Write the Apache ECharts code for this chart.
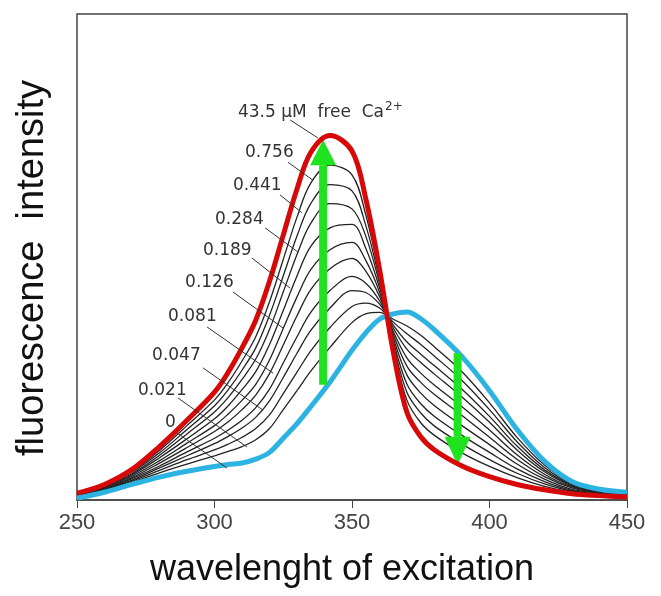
<!DOCTYPE html>
<html>
<head>
    <meta charset="utf-8">
    <title>fluorescence intensity</title>
    <script src="https://cdn.jsdelivr.net/npm/echarts@6/dist/echarts.min.js"></script>
</head>
<body style="margin: 0; padding: 0; background: #fff;">
<div id="main" style="width: 661px; height: 596px;"></div>
<script type="text/javascript">
    // wavelength of excitation (nm), same sampling for every trace
    var wavelengths = [250,260,270,280,290,300,305,310,315,320,325,330,335,342,350,355,360,365,370,375,380,390,400,410,420,430,440,450];
    var xTicks = [250, 300, 350, 400, 450];

    // 0 free Ca (blue) and 43.5 uM free Ca (red)
    var zeroCa = [0.4,1.6,3.2,4.7,5.9,6.9,7.3,7.6,8.4,9.8,12.7,15.7,19.2,24.3,30.8,34.4,37.2,38.3,38.7,37.3,35,29.5,22.5,14.5,8,3.8,2.2,1.6];
    var highCa = [1.4,3.2,6.3,11,16.4,22.2,26.3,31.3,37,45,54.5,64,71.5,75,71.8,62,47.5,30.5,18,13,10.3,7,4.8,3.2,2.1,1.3,0.9,0.6];

    // black traces in between, from the highest peak down
    var trace1 = [1.3,3.0,5.9,10.2,15.3,20.6,24.2,28.6,33.6,40.8,49.5,58.2,65.2,68.9,66.9,58.7,46.3,31.4,20.5,15.9,13.3,9.7,6.9,4.6,2.8,1.6,1.1,0.7];
    var trace2 = [1.2,2.9,5.7,9.7,14.5,19.4,22.7,26.7,31.3,38.0,46.1,54.3,61.0,64.9,63.6,56.5,45.4,32.1,22.1,17.9,15.2,11.5,8.3,5.5,3.3,1.8,1.2,0.8];
    var trace3 = [1.1,2.8,5.4,9.2,13.6,18.1,21.1,24.8,29.0,35.1,42.8,50.5,56.9,61.0,59.9,54.3,44.6,32.7,23.8,19.8,17.2,13.3,9.8,6.4,3.8,2.0,1.3,0.9];
    var trace4 = [1.0,2.6,5.2,8.7,12.6,16.7,19.4,22.7,26.4,32.0,39.0,46.1,52.2,56.0,56.7,51.8,43.7,33.4,25.7,22.0,19.4,15.3,11.4,7.4,4.3,2.2,1.4,1.0];
    var trace5 = [0.9,2.5,4.9,8.1,11.7,15.3,17.7,20.5,23.8,28.8,35.3,41.8,47.4,51.5,53.0,49.3,42.8,34.1,27.5,24.2,21.7,17.4,12.9,8.4,4.8,2.5,1.5,1.1];
    var trace6 = [0.9,2.3,4.6,7.6,10.8,14.1,16.1,18.6,21.6,26.0,31.9,37.9,43.3,47.6,49.7,47.1,41.9,34.7,29.2,26.1,23.6,19.2,14.4,9.3,5.3,2.7,1.6,1.1];
    var trace7 = [0.8,2.2,4.4,7.0,9.9,12.7,14.4,16.4,19.0,22.8,28.2,33.6,38.6,43.1,46.0,44.6,41.0,35.4,31.0,28.3,25.9,21.2,16.0,10.3,5.8,2.9,1.7,1.2];
    var trace8 = [0.7,2.1,4.1,6.6,9.1,11.6,13.1,14.8,17.0,20.4,25.2,30.2,34.9,39.5,43.1,42.7,40.3,36.0,32.5,30.0,27.6,22.8,17.2,11.1,6.2,3.1,1.8,1.3];
    var trace9 = [0.6,2.0,3.9,6.1,8.3,10.3,11.5,12.9,14.7,17.5,21.9,26.3,30.7,35.5,39.8,40.5,39.5,36.6,34.2,32.0,29.6,24.6,18.6,12.0,6.7,3.3,1.9,1.4];
    var trace10 = [0.5,1.8,3.6,5.6,7.4,9.1,10.0,11.0,12.4,14.7,18.6,22.5,26.5,31.4,36.5,38.3,38.6,37.2,35.8,33.9,31.5,26.4,20.0,12.9,7.2,3.5,2.0,1.5];

    // free Ca labels on the left
    var caLabels = ['43.5 \u03bcM  free  Ca{sup|2+}', '0.756', '0.441', '0.284', '0.189', '0.126', '0.081', '0.047', '0.021', '0'];

    // label anchor + leader line, in axis units [wavelength, intensity]
    var labelSpots = [
        {text: [308.5, 79.8], from: [327.5, 78.2], to: [337.6, 74.5]},
        {text: [311.1, 71.4], from: [326.7, 69.5], to: [335.8, 65.8]},
        {text: [306.7, 64.6], from: [323.8, 62.8], to: [331.8, 59.1]},
        {text: [300.2, 57.8], from: [318.4, 56.0], to: [330.4, 51.0]},
        {text: [295.8, 51.4], from: [313.6, 49.8], to: [327.5, 43.6]},
        {text: [289.3, 44.7], from: [306.7, 42.8], to: [324.9, 35.4]},
        {text: [283.1, 37.7], from: [297.3, 35.6], to: [321.3, 26.1]},
        {text: [277.3, 29.8], from: [295.8, 27.2], to: [317.6, 18.5]},
        {text: [272.2, 22.6], from: [286.7, 21.0], to: [311.8, 10.9]},
        {text: [282.0, 16.0], from: [286.4, 13.8], to: [304.5, 6.6]}
    ];

    // green arrows: x, tail, head base, tip
    var arrows = [
        {x: 339.5, tail: 23.7, base: 68.9, tip: 74.1},
        {x: 388.4, tail: 30.2, base: 13.0, tip: 7.2}
    ];

    function pairs(vals) {
        return wavelengths.map(function (w, i) { return [w, vals[i]]; });
    }

    var myChart = echarts.init(document.getElementById('main'));

    var traces = [trace1, trace2, trace3, trace4, trace5, trace6, trace7, trace8, trace9, trace10];
    var series = [];
    traces.forEach(function (t, i) {
        series.push({
            name: 'trace' + (i + 1), type: 'line', data: pairs(t),
            smooth: 0.35, showSymbol: false, z: 2,
            lineStyle: {color: '#222', width: 1.3}
        });
    });
    series.push({
        name: '0', type: 'line', data: pairs(zeroCa), smooth: 0.35, showSymbol: false, z: 3,
        lineStyle: {color: '#2db3e2', width: 5}
    });
    series.push({
        name: '43.5', type: 'line', data: pairs(highCa), smooth: 0.35, showSymbol: false, z: 5,
        lineStyle: {color: '#d60808', width: 5}
    });

    var option = {
        animation: false,
        backgroundColor: '#fff',
        grid: {left: 77, right: 34, top: 14, bottom: 96, show: true, borderColor: '#444', borderWidth: 1.5},
        xAxis: {
            type: 'value', min: xTicks[0], max: xTicks[xTicks.length - 1], interval: 50,
            name: 'wavelenght of excitation', nameLocation: 'middle', nameGap: 52,
            nameTextStyle: {fontSize: 36, color: '#111', fontFamily: 'Liberation Sans', padding: [0, 20, 0, 0]},
            axisLine: {lineStyle: {color: '#444', width: 1.5}},
            axisTick: {length: 8, lineStyle: {color: '#444'}},
            axisLabel: {fontSize: 22, color: '#444', fontFamily: 'Liberation Sans', margin: 12},
            splitLine: {show: false}
        },
        yAxis: {
            type: 'value', min: 0, max: 100,
            name: 'fluorescence  intensity', nameLocation: 'middle', nameGap: 25,
            nameTextStyle: {fontSize: 38, color: '#111', fontFamily: 'Liberation Sans', padding: [0, 22, 0, 0]},
            axisLine: {show: false}, axisTick: {show: false}, axisLabel: {show: false},
            splitLine: {show: false}
        },
        series: series
    };
    myChart.setOption(option);

    // 标注和箭头，换算成像素后画
    var graphics = [];
    labelSpots.forEach(function (s, i) {
        var p = myChart.convertToPixel({gridIndex: 0}, s.text);
        var a = myChart.convertToPixel({gridIndex: 0}, s.from);
        var b = myChart.convertToPixel({gridIndex: 0}, s.to);
        graphics.push({
            type: 'line', z: 6,
            shape: {x1: a[0], y1: a[1], x2: b[0], y2: b[1]},
            style: {stroke: '#333', lineWidth: 1}
        });
        graphics.push({
            type: 'text', z: 6, x: p[0], y: p[1],
            style: {
                text: caLabels[i], fill: '#333', font: '17px "DejaVu Sans"', verticalAlign: 'middle',
                rich: {
                    sup: {fontSize: 12, fontFamily: 'DejaVu Sans', fill: '#333', verticalAlign: 'top', padding: [0, 0, 10, 1]}
                }
            }
        });
    });
    arrows.forEach(function (ar) {
        var t = myChart.convertToPixel({gridIndex: 0}, [ar.x, ar.tail]);
        var b = myChart.convertToPixel({gridIndex: 0}, [ar.x, ar.base]);
        var h = myChart.convertToPixel({gridIndex: 0}, [ar.x, ar.tip]);
        graphics.push({
            type: 'line', z: 4,
            shape: {x1: t[0], y1: t[1], x2: b[0], y2: b[1]},
            style: {stroke: '#1fe31f', lineWidth: 8}
        });
        graphics.push({
            type: 'polygon', z: 4,
            shape: {points: [[b[0] - 13, b[1]], [b[0] + 13, b[1]], [h[0], h[1]]]},
            style: {fill: '#1fe31f'}
        });
    });
    myChart.setOption({graphic: graphics});
</script>
</body>
</html>
